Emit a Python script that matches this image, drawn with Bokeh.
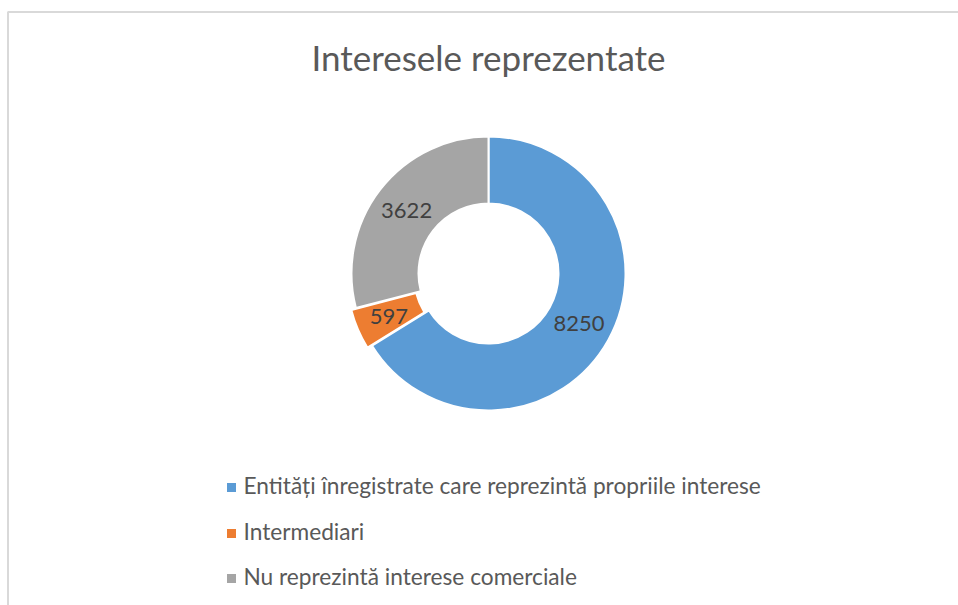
import numpy as np
from bokeh.plotting import figure
from bokeh.models import Range1d, ColumnDataSource
from bokeh.core.properties import value
from bokeh.embed import file_html
from bokeh.resources import INLINE

categories = ["Entități înregistrate care reprezintă propriile interese",
              "Intermediari",
              "Nu reprezintă interese comerciale"]
values = [8250, 597, 3622]
colors = ["#5B9BD5", "#ED7D31", "#A5A5A5"]
explode = [0, 5, 0]
title = "Interesele reprezentate"

W, H = 958, 605
FONT = "Lato"

def Y(py):
    return H - py

p = figure(width=W, height=H, output_backend="svg", toolbar_location=None,
           x_range=Range1d(0, W), y_range=Range1d(0, H), min_border=0)
p.axis.visible = False
p.grid.visible = False
p.outline_line_color = None
p.background_fill_color = "white"
p.border_fill_color = "white"

# chart area border (partly off-window)
p.quad(left=[7.5], right=[W + 20], top=[Y(11.5)], bottom=[-20],
       fill_color=None, line_color="#d9d9d9", line_width=2)

# donut
cx, cy = 488, Y(273)
r_out, r_in = 137, 70
vals = np.array(values, dtype=float)
total = vals.sum()
cum = np.concatenate([[0], np.cumsum(vals)])
start = np.pi / 2 - cum[:-1] / total * 2 * np.pi
end = np.pi / 2 - cum[1:] / total * 2 * np.pi
mid = (start + end) / 2
ex = np.array(explode, dtype=float)
wx = cx + ex * np.cos(mid)
wy = cy + ex * np.sin(mid)
src = ColumnDataSource(dict(start=start, end=end, color=colors, val=[str(v) for v in values],
                            wx=wx, wy=wy,
                            lx=wx + (r_out + r_in) / 2 * np.cos(mid),
                            ly=wy + (r_out + r_in) / 2 * np.sin(mid)))
p.annular_wedge(x="wx", y="wy", inner_radius=r_in, outer_radius=r_out,
                start_angle="start", end_angle="end", direction="clock",
                fill_color="color", line_color="white", line_width=2, source=src)
p.text(x="lx", y="ly", text="val", source=src, text_align="center", text_baseline="middle",
       text_font=value(FONT), text_font_size="22px", text_color="#404040")

# title
p.text(x=[488], y=[Y(56)], text=[title], text_align="center", text_baseline="middle",
       text_font=value(FONT), text_font_size="35px", text_color="#595959")

# legend
ly = [Y(487), Y(533), Y(578)]
p.scatter(x=[231] * 3, y=ly, marker="square", size=9, fill_color=colors, line_color=None)
p.text(x=[243] * 3, y=[v + 2 for v in ly], text=categories, text_align="left", text_baseline="middle",
       text_font=value(FONT), text_font_size="22.7px", text_color="#595959")

open("out.html", "w").write(file_html(p, INLINE))
